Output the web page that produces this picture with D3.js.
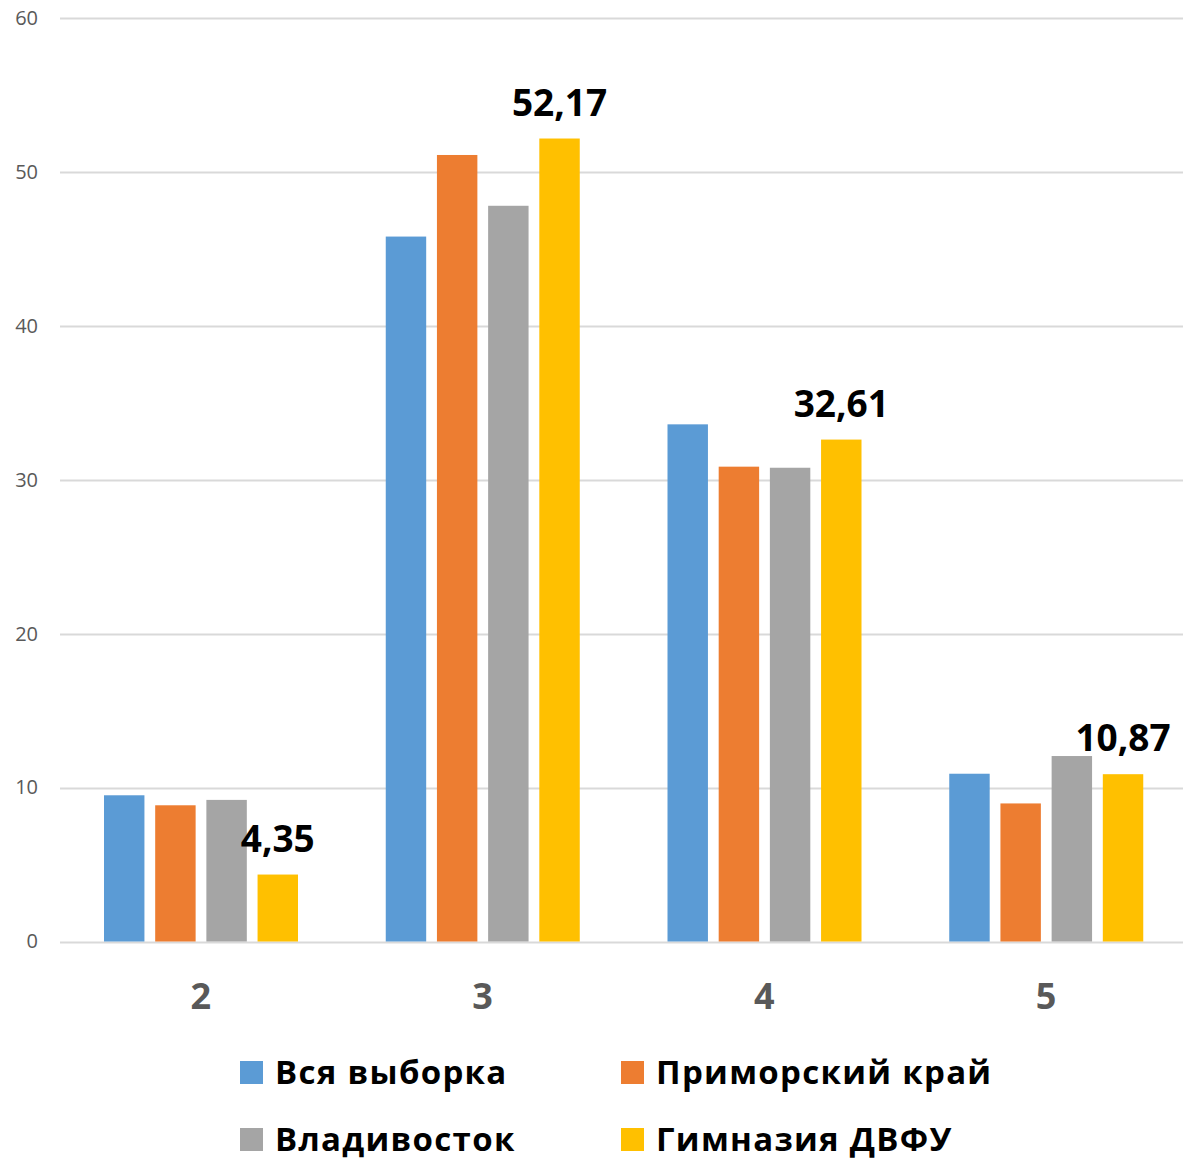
<!DOCTYPE html>
<html><head><meta charset="utf-8">
<script src="https://cdn.jsdelivr.net/npm/d3@7"></script>
<style>body{margin:0;background:#fff}svg{display:block}</style>
</head><body>
<svg id="chart" width="1183" height="1161"></svg>
<script>
const categories = ["2", "3", "4", "5"];
const seriesNames = ["Вся выборка", "Приморский край", "Владивосток", "Гимназия ДВФУ"];
const vsyaVyborka = [9.5, 45.8, 33.6, 10.9];
const primorskyKrai = [8.85, 51.1, 30.85, 8.97];
const vladivostok = [9.2, 47.8, 30.78, 12.05];
const gimnaziyaDVFU = [4.35, 52.17, 32.61, 10.87];
const seriesValues = [vsyaVyborka, primorskyKrai, vladivostok, gimnaziyaDVFU];
const yTicks = [0, 10, 20, 30, 40, 50, 60];
const labeledSeries = "Гимназия ДВФУ";
const colors = ["#5B9BD5", "#ED7D31", "#A5A5A5", "#FFC000"];

const svg = d3.select("#chart");
const FONT = "'Open Sans', sans-serif";

const y = d3.scaleLinear().domain([0, 60]).range([941.5, 18]);
const x0 = d3.scaleBand().domain(categories).range([60, 1187]).padding(0);
const x1 = d3.scaleBand().domain(seriesNames).range([44, 238]).paddingInner(0.21).paddingOuter(0);
const color = d3.scaleOrdinal().domain(seriesNames).range(colors);

// gridlines
svg.append("g").selectAll("line").data(yTicks).join("line")
  .attr("x1", 60).attr("x2", 1183)
  .attr("y1", d => Math.round(y(d)) + 0.5).attr("y2", d => Math.round(y(d)) + 0.5)
  .attr("stroke", "#D9D9D9").attr("stroke-width", 2);

// y axis labels
const yAxis = d3.axisLeft(y).tickValues(yTicks).tickSize(0).tickPadding(0).tickFormat(d3.format("d"));
const ya = svg.append("g").attr("transform", "translate(38,0)").call(yAxis);
ya.select(".domain").remove();
ya.selectAll("text").attr("font-family", FONT).attr("font-size", 20).attr("fill", "#595959");

// bars
const rows = [];
categories.forEach((c, i) => seriesNames.forEach((s, j) => rows.push({cat: c, series: s, value: seriesValues[j][i]})));

svg.append("g").selectAll("rect").data(rows).join("rect")
  .attr("x", d => x0(d.cat) + x1(d.series))
  .attr("width", x1.bandwidth())
  .attr("y", d => y(d.value))
  .attr("height", d => y(0) - y(d.value))
  .attr("fill", d => color(d.series));

// data labels
const fmt = v => v.toFixed(2).replace(".", ",");
svg.append("g").selectAll("text").data(rows.filter(d => d.series === labeledSeries)).join("text")
  .attr("x", d => x0(d.cat) + x1(d.series) + x1.bandwidth() / 2)
  .attr("y", d => y(d.value) - 23)
  .attr("text-anchor", "middle")
  .attr("font-family", FONT).attr("font-weight", 700).attr("font-size", 37)
  .attr("fill", "#000").text(d => fmt(d.value));

// x axis category labels
const xAxis = d3.axisBottom(x0).tickSize(0).tickPadding(0);
const xa = svg.append("g").attr("transform", "translate(0,982)").call(xAxis);
xa.select(".domain").remove();
xa.selectAll("text").attr("font-family", FONT).attr("font-weight", 700).attr("font-size", 36)
  .attr("fill", "#595959").attr("dy", "0.76em");

// legend
const legendPos = [[240, 1061], [621, 1061], [240, 1128], [621, 1128]];
const lg = svg.append("g").selectAll("g").data(seriesNames).join("g")
  .attr("transform", (d, i) => `translate(${legendPos[i][0]},${legendPos[i][1]})`);
lg.append("rect").attr("width", 23).attr("height", 23).attr("fill", d => color(d));
lg.append("text").attr("x", 35).attr("y", 23)
  .attr("font-family", FONT).attr("font-weight", 700).attr("font-size", 33)
  .attr("letter-spacing", 1.3)
  .attr("fill", "#000").text(d => d);
</script>
</body></html>
